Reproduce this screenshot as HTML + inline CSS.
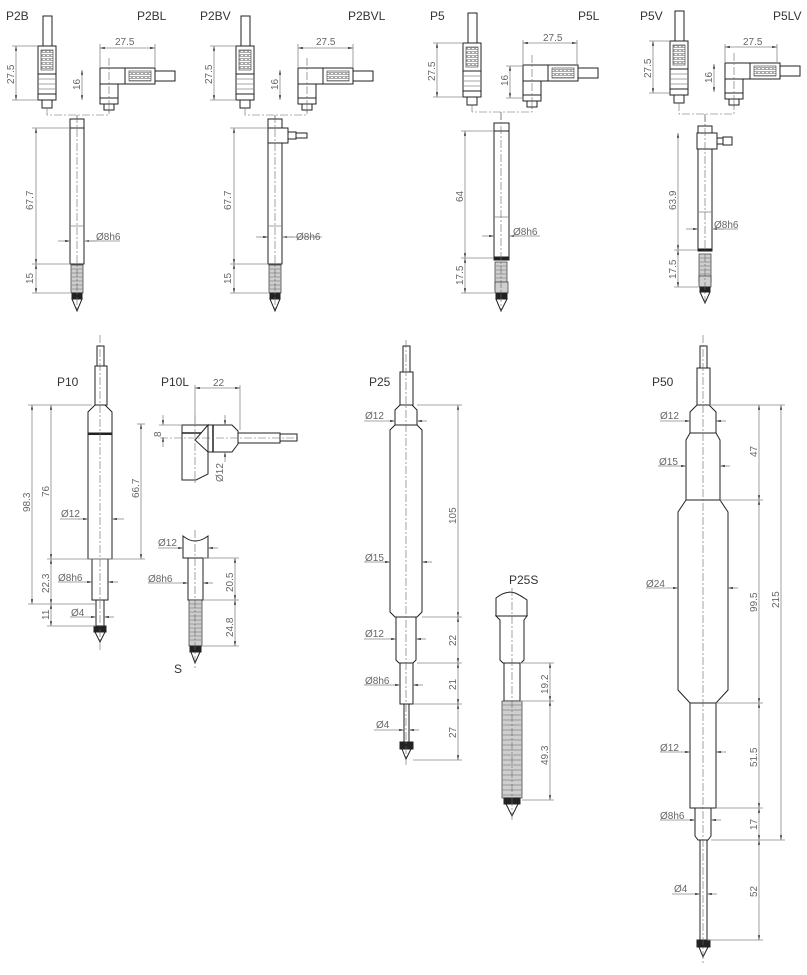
<!DOCTYPE html>
<html><head><meta charset="utf-8"><style>
html,body{margin:0;padding:0;background:#fff}
svg{display:block}
.o{fill:#fff;stroke:#222;stroke-width:1}
.k{fill:#222;stroke:#222}
.g{fill:#cfcfcf;stroke:#333;stroke-width:.7}
.gr{fill:url(#grip);stroke:#333;stroke-width:.6}
.d{stroke:#888;stroke-width:.8;fill:none}
.c{stroke:#666;stroke-width:.6;fill:none;stroke-dasharray:8 2 2 2}
text{font-family:"Liberation Sans",sans-serif;font-size:10px;fill:#666}
.lb{font-size:12px;fill:#333}
</style></head><body>
<svg width="807" height="975" viewBox="0 0 807 975" xmlns="http://www.w3.org/2000/svg">
<defs>
<pattern id="grip" x="0" y="0" width="4" height="4" patternUnits="userSpaceOnUse"><rect width="4" height="4" fill="#fff"/><rect x="0.5" y="0.5" width="3" height="2" fill="none" stroke="#555" stroke-width="0.5"/></pattern>
<marker id="a" viewBox="0 0 10 10" refX="10" refY="5" markerWidth="6" markerHeight="6" orient="auto-start-reverse"><path d="M0,3 L10,5 L0,7z" fill="#222"/></marker>
<g id="sc">
<rect class="o" x="5" y="-30" width="9" height="30"/>
<rect class="o" x="0" y="0" width="18" height="28"/>
<rect class="gr" x="3" y="4" width="12" height="20"/>
<rect class="o" x="0" y="28" width="18" height="20"/>
<line class="d" x1="0" y1="33" x2="18" y2="33" stroke="#333"/><line class="d" x1="0" y1="38" x2="18" y2="38" stroke="#333"/><line class="d" x1="0" y1="43" x2="18" y2="43" stroke="#333"/>
<rect class="o" x="0" y="48" width="18" height="6"/>
<rect class="o" x="4" y="54" width="10" height="8"/>
</g>
<g id="ac">
<rect class="o" x="0" y="0" width="18" height="30"/>
<rect class="o" x="0" y="0" width="25" height="16"/>
<rect class="o" x="25" y="0" width="30" height="16"/>
<rect class="gr" x="29" y="3" width="22" height="10"/>
<rect class="o" x="55" y="3" width="20" height="10"/>
<rect class="o" x="0" y="30" width="18" height="6"/>
<rect class="o" x="4" y="36" width="10" height="6"/>
<line class="c" x1="9" y1="-10" x2="9" y2="45"/>
</g>
<g id="sp">
<rect class="g" x="0" y="0" width="12" height="28"/>
<path class="d" d="M0,4h12M0,8h12M0,12h12M0,16h12M0,20h12M0,24h12" stroke="#333"/>
</g>
</defs>

<text class="lb" x="6" y="20">P2B</text><text class="lb" x="137" y="20">P2BL</text>
<text class="lb" x="200" y="20">P2BV</text><text class="lb" x="348" y="20">P2BVL</text>
<text class="lb" x="430" y="20">P5</text><text class="lb" x="578" y="20">P5L</text>
<text class="lb" x="640" y="20">P5V</text><text class="lb" x="773" y="20">P5LV</text>

<!-- P2B -->
<use href="#sc" x="38" y="46"/>
<use href="#ac" x="100" y="68"/>
<line class="d" x1="16" y1="46" x2="16" y2="100" marker-start="url(#a)" marker-end="url(#a)"/>
<line class="d" x1="12" y1="46" x2="38" y2="46"/><line class="d" x1="12" y1="100" x2="38" y2="100"/>
<text transform="translate(14,84) rotate(-90)">27.5</text>
<line class="d" x1="100" y1="48" x2="155" y2="48" marker-start="url(#a)" marker-end="url(#a)"/>
<line class="d" x1="100" y1="44" x2="100" y2="68"/><line class="d" x1="155" y1="44" x2="155" y2="68"/>
<text x="115" y="45">27.5</text>
<line class="d" x1="82" y1="70" x2="82" y2="100" marker-start="url(#a)" marker-end="url(#a)"/>
<text transform="translate(80,90) rotate(-90)">16</text>
<path class="c" d="M47,108V115H109V108M77,115V120"/>
<rect class="o" x="70" y="119" width="14" height="9"/>
<rect class="o" x="70" y="128" width="14" height="136"/>
<line class="d" x1="70" y1="226" x2="84" y2="226" stroke="#333"/>
<use href="#sp" x="71" y="265"/>
<rect class="k" x="72" y="293" width="10" height="6"/>
<path class="o" d="M72,299L77,311L82,299z"/>
<line class="c" x1="77" y1="115" x2="77" y2="312"/>
<line class="d" x1="36" y1="128" x2="36" y2="264" marker-start="url(#a)" marker-end="url(#a)"/>
<line class="d" x1="36" y1="264" x2="36" y2="293" marker-start="url(#a)" marker-end="url(#a)"/>
<line class="d" x1="32" y1="128" x2="70" y2="128"/><line class="d" x1="32" y1="264" x2="70" y2="264"/><line class="d" x1="32" y1="293" x2="70" y2="293"/>
<text transform="translate(33,210) rotate(-90)">67.7</text><text transform="translate(33,284) rotate(-90)">15</text>
<line class="d" x1="58" y1="241" x2="70" y2="241" marker-end="url(#a)"/><line class="d" x1="96" y1="241" x2="84" y2="241" marker-end="url(#a)"/>
<line class="d" x1="84" y1="241" x2="120" y2="241"/><text x="96" y="240">Ø8h6</text>

<!-- P2BV -->
<use href="#sc" x="236" y="46"/>
<use href="#ac" x="298" y="68"/>
<line class="d" x1="214" y1="46" x2="214" y2="100" marker-start="url(#a)" marker-end="url(#a)"/>
<line class="d" x1="210" y1="46" x2="236" y2="46"/><line class="d" x1="210" y1="100" x2="236" y2="100"/>
<text transform="translate(212,84) rotate(-90)">27.5</text>
<line class="d" x1="298" y1="48" x2="353" y2="48" marker-start="url(#a)" marker-end="url(#a)"/>
<line class="d" x1="298" y1="44" x2="298" y2="68"/><line class="d" x1="353" y1="44" x2="353" y2="68"/>
<text x="316" y="45">27.5</text>
<line class="d" x1="280" y1="70" x2="280" y2="100" marker-start="url(#a)" marker-end="url(#a)"/>
<text transform="translate(278,90) rotate(-90)">16</text>
<path class="c" d="M245,108V115H307V108M275,115V120"/>
<rect class="o" x="268" y="119" width="14" height="9"/>
<rect class="o" x="268" y="128" width="20" height="15"/>
<rect class="o" x="288" y="132" width="8" height="7"/><rect class="o" x="296" y="133" width="11" height="5"/>
<rect class="o" x="268" y="143" width="14" height="121"/>
<line class="d" x1="268" y1="226" x2="282" y2="226" stroke="#333"/>
<use href="#sp" x="269" y="265"/>
<rect class="k" x="270" y="293" width="10" height="6"/>
<path class="o" d="M270,299L275,311L280,299z"/>
<line class="c" x1="275" y1="115" x2="275" y2="312"/>
<line class="d" x1="234" y1="128" x2="234" y2="264" marker-start="url(#a)" marker-end="url(#a)"/>
<line class="d" x1="234" y1="264" x2="234" y2="293" marker-start="url(#a)" marker-end="url(#a)"/>
<line class="d" x1="230" y1="128" x2="268" y2="128"/><line class="d" x1="230" y1="264" x2="268" y2="264"/><line class="d" x1="230" y1="293" x2="268" y2="293"/>
<text transform="translate(231,210) rotate(-90)">67.7</text><text transform="translate(231,284) rotate(-90)">15</text>
<line class="d" x1="256" y1="237" x2="268" y2="237" marker-end="url(#a)"/><line class="d" x1="294" y1="237" x2="282" y2="237" marker-end="url(#a)"/>
<line class="d" x1="282" y1="237" x2="322" y2="237"/><text x="296" y="240">Ø8h6</text>

<!-- P5 -->
<use href="#sc" x="463" y="43"/>
<use href="#ac" x="523" y="65"/>
<line class="d" x1="437" y1="43" x2="437" y2="97" marker-start="url(#a)" marker-end="url(#a)"/>
<line class="d" x1="433" y1="43" x2="463" y2="43"/><line class="d" x1="433" y1="97" x2="463" y2="97"/>
<text transform="translate(435,81) rotate(-90)">27.5</text>
<line class="d" x1="523" y1="43" x2="577" y2="43" marker-start="url(#a)" marker-end="url(#a)"/>
<line class="d" x1="523" y1="40" x2="523" y2="65"/><line class="d" x1="577" y1="40" x2="577" y2="65"/>
<text x="543" y="41">27.5</text>
<line class="d" x1="510" y1="66" x2="510" y2="98" marker-start="url(#a)" marker-end="url(#a)"/>
<line class="d" x1="506" y1="66" x2="523" y2="66"/><line class="d" x1="506" y1="98" x2="523" y2="98"/>
<text transform="translate(508,86) rotate(-90)">16</text>
<path class="c" d="M472,105V112H532V105M501,112V122"/>
<rect class="o" x="494" y="123" width="15" height="8"/>
<rect class="o" x="494" y="131" width="15" height="127"/>
<line class="d" x1="494" y1="217" x2="509" y2="217" stroke="#333"/>
<rect class="k" x="494" y="257" width="15" height="3"/>
<use href="#sp" x="495" y="262"/><rect class="g" x="495" y="282" width="13" height="11"/>
<rect class="k" x="496" y="293" width="11" height="6"/>
<path class="o" d="M496,299L501,311L507,299z"/>
<line class="c" x1="501" y1="112" x2="501" y2="312"/>
<line class="d" x1="465" y1="131" x2="465" y2="258" marker-start="url(#a)" marker-end="url(#a)"/>
<line class="d" x1="465" y1="258" x2="465" y2="293" marker-start="url(#a)" marker-end="url(#a)"/>
<line class="d" x1="461" y1="131" x2="494" y2="131"/><line class="d" x1="461" y1="258" x2="494" y2="258"/><line class="d" x1="461" y1="293" x2="494" y2="293"/>
<text transform="translate(463,202) rotate(-90)">64</text><text transform="translate(463,285) rotate(-90)">17.5</text>
<line class="d" x1="482" y1="236" x2="494" y2="236" marker-end="url(#a)"/><line class="d" x1="521" y1="236" x2="509" y2="236" marker-end="url(#a)"/>
<line class="d" x1="509" y1="236" x2="540" y2="236"/><text x="513" y="235">Ø8h6</text>

<!-- P5V -->
<use href="#sc" x="670" y="41"/>
<use href="#ac" x="725" y="63"/>
<line class="d" x1="653" y1="41" x2="653" y2="93" marker-start="url(#a)" marker-end="url(#a)"/>
<line class="d" x1="649" y1="41" x2="670" y2="41"/><line class="d" x1="649" y1="93" x2="670" y2="93"/>
<text transform="translate(651,78) rotate(-90)">27.5</text>
<line class="d" x1="725" y1="47" x2="777" y2="47" marker-start="url(#a)" marker-end="url(#a)"/>
<line class="d" x1="725" y1="44" x2="725" y2="63"/><line class="d" x1="777" y1="44" x2="777" y2="63"/>
<text x="743" y="45">27.5</text>
<line class="d" x1="714" y1="64" x2="714" y2="92" marker-start="url(#a)" marker-end="url(#a)"/>
<text transform="translate(712,83) rotate(-90)">16</text>
<path class="c" d="M679,103V114H734V103M705,114V125"/>
<rect class="o" x="698" y="126" width="14" height="7"/>
<rect class="o" x="697" y="133" width="20" height="16"/>
<rect class="o" x="717" y="138" width="6" height="6"/><rect class="o" x="723" y="137" width="9" height="8"/>
<rect class="o" x="698" y="149" width="14" height="100"/>
<line class="d" x1="698" y1="212" x2="712" y2="212" stroke="#333"/>
<rect class="k" x="698" y="249" width="14" height="2"/>
<use href="#sp" x="699" y="254"/><rect class="g" x="699" y="276" width="12" height="11"/>
<rect class="k" x="700" y="287" width="10" height="5"/>
<path class="o" d="M700,292L705,303L710,292z"/>
<line class="c" x1="705" y1="114" x2="705" y2="305"/>
<line class="d" x1="678" y1="133" x2="678" y2="250" marker-start="url(#a)" marker-end="url(#a)"/>
<line class="d" x1="678" y1="250" x2="678" y2="287" marker-start="url(#a)" marker-end="url(#a)"/>
<line class="d" x1="674" y1="250" x2="698" y2="250"/><line class="d" x1="674" y1="287" x2="698" y2="287"/>
<text transform="translate(676,210) rotate(-90)">63.9</text><text transform="translate(676,279) rotate(-90)">17.5</text>
<line class="d" x1="686" y1="229" x2="698" y2="229" marker-end="url(#a)"/><line class="d" x1="724" y1="229" x2="712" y2="229" marker-end="url(#a)"/>
<line class="d" x1="712" y1="229" x2="738" y2="229"/><text x="714" y="228">Ø8h6</text>

<!-- P10 -->
<text class="lb" x="57" y="386">P10</text>
<rect class="o" x="97" y="346" width="7" height="20"/>
<rect class="o" x="95" y="366" width="12" height="39"/>
<path class="o" d="M95,405L88,412V559H112V412L105,405z"/>
<rect class="k" x="88" y="433" width="24" height="1.5"/>
<rect class="o" x="92" y="559" width="16" height="41"/>
<rect class="o" x="96" y="600" width="8" height="26"/>
<rect class="k" x="94" y="626" width="12" height="6"/>
<path class="o" d="M95,632L100,642L105,632z"/>
<line class="c" x1="100" y1="335" x2="100" y2="650"/>
<line class="d" x1="32" y1="405" x2="32" y2="604" marker-start="url(#a)" marker-end="url(#a)"/>
<line class="d" x1="51" y1="405" x2="51" y2="559" marker-start="url(#a)" marker-end="url(#a)"/>
<line class="d" x1="51" y1="559" x2="51" y2="604" marker-start="url(#a)" marker-end="url(#a)"/>
<line class="d" x1="51" y1="604" x2="51" y2="626" marker-start="url(#a)" marker-end="url(#a)"/>
<line class="d" x1="141" y1="424" x2="141" y2="559" marker-start="url(#a)" marker-end="url(#a)"/>
<line class="d" x1="28" y1="405" x2="92" y2="405"/><line class="d" x1="47" y1="559" x2="145" y2="559"/>
<line class="d" x1="28" y1="604" x2="96" y2="604"/><line class="d" x1="47" y1="626" x2="96" y2="626"/>
<line class="d" x1="137" y1="424" x2="145" y2="424"/>
<text transform="translate(30,512) rotate(-90)">98.3</text><text transform="translate(49,497) rotate(-90)">76</text>
<text transform="translate(139,498) rotate(-90)">66.7</text><text transform="translate(49,593) rotate(-90)">22.3</text>
<text transform="translate(49,620) rotate(-90)">11</text>
<line class="d" x1="60" y1="519" x2="80" y2="519"/><line class="d" x1="78" y1="519" x2="88" y2="519" marker-end="url(#a)"/><line class="d" x1="124" y1="519" x2="112" y2="519" marker-end="url(#a)"/>
<text x="61" y="517">Ø12</text>
<line class="d" x1="58" y1="582" x2="92" y2="582" marker-end="url(#a)"/><line class="d" x1="118" y1="582" x2="108" y2="582" marker-end="url(#a)"/>
<text x="58" y="581">Ø8h6</text>
<line class="d" x1="70" y1="617" x2="96" y2="617" marker-end="url(#a)"/><line class="d" x1="114" y1="617" x2="104" y2="617" marker-end="url(#a)"/>
<text x="71" y="616">Ø4</text>

<!-- P10L -->
<text class="lb" x="161" y="386">P10L</text>
<path class="o" d="M182,425H208V474L196,480H182z"/>
<line x1="182" y1="433" x2="208" y2="433" stroke="#222" stroke-width="1.5"/>
<path class="o" d="M208,425L195,440L208,452z"/>
<path class="o" d="M208,425H232L238,431V444L232,452H208z"/>
<line x1="213" y1="425" x2="213" y2="452" stroke="#222" stroke-width="1.5"/>
<rect class="o" x="238" y="433" width="42" height="10"/>
<rect class="o" x="280" y="434" width="17" height="7"/>
<line class="c" x1="160" y1="438" x2="300" y2="438"/>
<line class="c" x1="195" y1="415" x2="195" y2="485"/>
<line class="d" x1="195" y1="388" x2="240" y2="388" marker-start="url(#a)" marker-end="url(#a)"/>
<line class="d" x1="195" y1="385" x2="195" y2="425"/><line class="d" x1="240" y1="385" x2="240" y2="430"/>
<text x="213" y="386">22</text>
<line class="d" x1="163" y1="415" x2="163" y2="425" marker-end="url(#a)"/><line class="d" x1="163" y1="447" x2="163" y2="437" marker-end="url(#a)"/>
<line class="d" x1="159" y1="425" x2="182" y2="425"/>
<text transform="translate(161,437) rotate(-90)">8</text>
<line class="d" x1="225" y1="415" x2="225" y2="425" marker-end="url(#a)"/><line class="d" x1="225" y1="462" x2="225" y2="452" marker-end="url(#a)"/>
<text transform="translate(223,482) rotate(-90)">Ø12</text>
<path class="o" d="M183,536Q195,546 208,536V558H183z"/>
<rect class="o" x="188" y="558" width="15" height="42"/>
<rect class="g" x="189" y="600" width="13" height="46"/>
<path class="d" stroke="#333" d="M189,604h13M189,608h13M189,612h13M189,616h13M189,620h13M189,624h13M189,628h13M189,632h13M189,636h13M189,640h13"/>
<rect class="k" x="190" y="646" width="11" height="6"/>
<path class="o" d="M191,652L195,663L200,652z"/>
<line class="c" x1="195" y1="530" x2="195" y2="668"/>
<text class="lb" x="174" y="673">S</text>
<line class="d" x1="158" y1="548" x2="183" y2="548" marker-end="url(#a)"/><line class="d" x1="218" y1="548" x2="208" y2="548" marker-end="url(#a)"/>
<text x="158" y="546">Ø12</text>
<line class="d" x1="148" y1="583" x2="188" y2="583" marker-end="url(#a)"/><line class="d" x1="213" y1="583" x2="203" y2="583" marker-end="url(#a)"/>
<text x="148" y="582">Ø8h6</text>
<line class="d" x1="235" y1="558" x2="235" y2="600" marker-start="url(#a)" marker-end="url(#a)"/>
<line class="d" x1="235" y1="600" x2="235" y2="646" marker-start="url(#a)" marker-end="url(#a)"/>
<line class="d" x1="203" y1="558" x2="239" y2="558"/><line class="d" x1="203" y1="600" x2="239" y2="600"/><line class="d" x1="203" y1="646" x2="239" y2="646"/>
<text transform="translate(233,592) rotate(-90)">20.5</text><text transform="translate(233,637) rotate(-90)">24.8</text>

<!-- P25 -->
<text class="lb" x="369" y="386">P25</text>
<rect class="o" x="403" y="346" width="7" height="26"/>
<rect class="o" x="400" y="372" width="13" height="33"/>
<path class="o" d="M400,405L395,410V425H417V410L412,405z"/>
<path class="o" d="M395,425L390,430V612L395,617H417L422,612V430L417,425z"/>
<path class="o" d="M396,617V660L399,663H413L416,660V617z"/>
<rect class="o" x="400" y="663" width="13" height="41"/>
<rect class="o" x="404" y="704" width="5" height="38"/>
<rect class="k" x="400" y="742" width="13" height="7"/>
<path class="o" d="M402,749L406,759L411,749z"/>
<line class="c" x1="406" y1="340" x2="406" y2="765"/>
<line class="d" x1="417" y1="405" x2="462" y2="405"/>
<line class="d" x1="422" y1="617" x2="462" y2="617"/><line class="d" x1="417" y1="663" x2="462" y2="663"/>
<line class="d" x1="413" y1="704" x2="462" y2="704"/><line class="d" x1="413" y1="760" x2="462" y2="760"/>
<line class="d" x1="458" y1="405" x2="458" y2="617" marker-start="url(#a)" marker-end="url(#a)"/>
<line class="d" x1="458" y1="617" x2="458" y2="663" marker-start="url(#a)" marker-end="url(#a)"/>
<line class="d" x1="458" y1="663" x2="458" y2="704" marker-start="url(#a)" marker-end="url(#a)"/>
<line class="d" x1="458" y1="704" x2="458" y2="760" marker-start="url(#a)" marker-end="url(#a)"/>
<text transform="translate(456,524) rotate(-90)">105</text><text transform="translate(456,646) rotate(-90)">22</text>
<text transform="translate(456,690) rotate(-90)">21</text><text transform="translate(456,738) rotate(-90)">27</text>
<line class="d" x1="364" y1="421" x2="395" y2="421" marker-end="url(#a)"/><line class="d" x1="427" y1="421" x2="417" y2="421" marker-end="url(#a)"/>
<text x="365" y="419">Ø12</text>
<line class="d" x1="364" y1="562" x2="390" y2="562" marker-end="url(#a)"/><line class="d" x1="432" y1="562" x2="422" y2="562" marker-end="url(#a)"/>
<text x="365" y="561">Ø15</text>
<line class="d" x1="364" y1="639" x2="396" y2="639" marker-end="url(#a)"/><line class="d" x1="426" y1="639" x2="416" y2="639" marker-end="url(#a)"/>
<text x="365" y="637">Ø12</text>
<line class="d" x1="364" y1="685" x2="400" y2="685" marker-end="url(#a)"/><line class="d" x1="423" y1="685" x2="413" y2="685" marker-end="url(#a)"/>
<text x="365" y="684">Ø8h6</text>
<line class="d" x1="374" y1="730" x2="404" y2="730" marker-end="url(#a)"/><line class="d" x1="419" y1="730" x2="409" y2="730" marker-end="url(#a)"/>
<text x="376" y="728">Ø4</text>

<!-- P25S -->
<text class="lb" x="509" y="584">P25S</text>
<path class="o" d="M496,598Q506,590 515,593Q520,595 527,600V616H496z"/>
<path class="o" d="M496,616L500,620V660L503,663H521L524,660V620L527,616z"/>
<rect class="o" x="504" y="663" width="16" height="38"/>
<rect class="g" x="502" y="701" width="20" height="97"/>
<path class="d" stroke="#333" d="M502,705h20M502,710h20M502,715h20M502,720h20M502,725h20M502,730h20M502,735h20M502,740h20M502,745h20M502,750h20M502,755h20M502,760h20M502,765h20M502,770h20M502,775h20M502,780h20M502,785h20M502,790h20M502,795h20"/>
<rect class="k" x="504" y="798" width="16" height="6"/>
<path class="o" d="M506,804L512,816L518,804z"/>
<line class="c" x1="512" y1="588" x2="512" y2="820"/>
<line class="d" x1="520" y1="663" x2="554" y2="663"/><line class="d" x1="520" y1="701" x2="554" y2="701"/><line class="d" x1="522" y1="800" x2="554" y2="800"/>
<line class="d" x1="550" y1="663" x2="550" y2="701" marker-start="url(#a)" marker-end="url(#a)"/>
<line class="d" x1="550" y1="701" x2="550" y2="800" marker-start="url(#a)" marker-end="url(#a)"/>
<text transform="translate(548,694) rotate(-90)">19.2</text><text transform="translate(548,765) rotate(-90)">49.3</text>

<!-- P50 -->
<text class="lb" x="652" y="386">P50</text>
<rect class="o" x="700" y="346" width="7" height="22"/>
<rect class="o" x="697" y="368" width="13" height="37"/>
<path class="o" d="M697,405L690,412V433H716V412L709,405z"/>
<path class="o" d="M690,433L686,440V500H720V440L716,433z"/>
<path class="o" d="M686,500L678,512V690L690,703H716L728,690V512L720,500z"/>
<rect class="o" x="690" y="703" width="26" height="105"/>
<path class="o" d="M695,808V836L698,840H708L711,836V808z"/>
<rect class="o" x="700" y="840" width="7" height="100"/>
<rect class="k" x="697" y="940" width="13" height="7"/>
<path class="o" d="M699,947L703,957L708,947z"/>
<line class="c" x1="703" y1="335" x2="703" y2="965"/>
<line class="d" x1="709" y1="405" x2="785" y2="405"/><line class="d" x1="720" y1="500" x2="763" y2="500"/>
<line class="d" x1="716" y1="703" x2="763" y2="703"/><line class="d" x1="716" y1="808" x2="763" y2="808"/>
<line class="d" x1="711" y1="840" x2="785" y2="840"/><line class="d" x1="707" y1="940" x2="763" y2="940"/>
<line class="d" x1="759" y1="405" x2="759" y2="500" marker-start="url(#a)" marker-end="url(#a)"/>
<line class="d" x1="759" y1="500" x2="759" y2="703" marker-start="url(#a)" marker-end="url(#a)"/>
<line class="d" x1="759" y1="703" x2="759" y2="808" marker-start="url(#a)" marker-end="url(#a)"/>
<line class="d" x1="759" y1="808" x2="759" y2="840" marker-start="url(#a)" marker-end="url(#a)"/>
<line class="d" x1="759" y1="840" x2="759" y2="940" marker-start="url(#a)" marker-end="url(#a)"/>
<line class="d" x1="781" y1="405" x2="781" y2="840" marker-start="url(#a)" marker-end="url(#a)"/>
<text transform="translate(757,457) rotate(-90)">47</text><text transform="translate(757,612) rotate(-90)">99.5</text>
<text transform="translate(757,767) rotate(-90)">51.5</text><text transform="translate(757,830) rotate(-90)">17</text>
<text transform="translate(757,897) rotate(-90)">52</text><text transform="translate(779,608) rotate(-90)">215</text>
<line class="d" x1="660" y1="421" x2="690" y2="421" marker-end="url(#a)"/><line class="d" x1="726" y1="421" x2="716" y2="421" marker-end="url(#a)"/>
<text x="660" y="419">Ø12</text>
<line class="d" x1="658" y1="466" x2="686" y2="466" marker-end="url(#a)"/><line class="d" x1="730" y1="466" x2="720" y2="466" marker-end="url(#a)"/>
<text x="659" y="465">Ø15</text>
<line class="d" x1="646" y1="588" x2="678" y2="588" marker-end="url(#a)"/><line class="d" x1="738" y1="588" x2="728" y2="588" marker-end="url(#a)"/>
<text x="646" y="587">Ø24</text>
<line class="d" x1="660" y1="752" x2="690" y2="752" marker-end="url(#a)"/><line class="d" x1="726" y1="752" x2="716" y2="752" marker-end="url(#a)"/>
<text x="660" y="751">Ø12</text>
<line class="d" x1="660" y1="820" x2="695" y2="820" marker-end="url(#a)"/><line class="d" x1="721" y1="820" x2="711" y2="820" marker-end="url(#a)"/>
<text x="660" y="819">Ø8h6</text>
<line class="d" x1="672" y1="894" x2="700" y2="894" marker-end="url(#a)"/><line class="d" x1="717" y1="894" x2="707" y2="894" marker-end="url(#a)"/>
<text x="674" y="892">Ø4</text>
</svg>
</body></html>
